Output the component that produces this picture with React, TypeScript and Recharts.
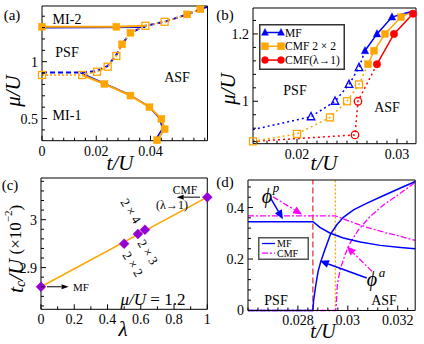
import React from 'react';
import { LineChart, Line, XAxis, YAxis, ReferenceLine, Legend } from 'recharts';

const FONT = "'Liberation Serif','Times New Roman',Times,'DejaVu Serif',serif";
const BLUE = '#0000ff';
const ORANGE = '#ffa500';
const RED = '#ff0000';
const MAGENTA = '#ff00ff';
const PURPLE = '#9400d3';

type Pt = { x: number; y: number; m?: number };

// ---------- Panel (a): mu/U vs t/U ----------
const aMI2MF: Pt[] = [{ x: 0, y: 1.299 }, { x: 0.0381, y: 1.303 }];
const aMI2CMF: Pt[] = [{ x: 0, y: 1.307, m: 1 }, { x: 0.0274, y: 1.307, m: 1 }, { x: 0.0381, y: 1.316 }];
const aPsfMF: Pt[] = [
  { x: 0, y: 0.904 }, { x: 0.0141, y: 0.904 }, { x: 0.0203, y: 0.918 }, { x: 0.0242, y: 0.962 },
  { x: 0.0274, y: 1.06 }, { x: 0.0295, y: 1.153 }, { x: 0.0326, y: 1.254 }, { x: 0.0381, y: 1.316 },
  { x: 0.0452, y: 1.351 }, { x: 0.0535, y: 1.416 }, { x: 0.0584, y: 1.462 }, { x: 0.0609, y: 1.482 },
];
const aPsfCMF: Pt[] = [
  { x: 0, y: 0.883, m: 0 }, { x: 0.0148, y: 0.883, m: 0 }, { x: 0.0203, y: 0.912, m: 0 },
  { x: 0.0242, y: 0.956, m: 0 }, { x: 0.0274, y: 1.05, m: 0 }, { x: 0.0295, y: 1.153, m: 1 },
  { x: 0.0326, y: 1.254, m: 1 }, { x: 0.0381, y: 1.316, m: 0 }, { x: 0.0452, y: 1.351, m: 0 },
  { x: 0.0535, y: 1.416, m: 1 }, { x: 0.0584, y: 1.462, m: 1 },
];
const aMI1MF: Pt[] = [
  { x: 0.0141, y: 0.904 }, { x: 0.0228, y: 0.81 }, { x: 0.0324, y: 0.708 }, { x: 0.0394, y: 0.605 },
  { x: 0.0434, y: 0.5 }, { x: 0.0444, y: 0.41 }, { x: 0.0418, y: 0.309 },
];
const aMI1CMF: Pt[] = [
  { x: 0.0148, y: 0.883 }, { x: 0.023, y: 0.804, m: 1 }, { x: 0.0326, y: 0.702, m: 1 },
  { x: 0.0396, y: 0.6, m: 1 }, { x: 0.044, y: 0.497, m: 1 }, { x: 0.0452, y: 0.407, m: 1 },
  { x: 0.0424, y: 0.309, m: 1 },
];
const aXMajor = [0, 0.02, 0.04];
const aYMajor = [0.5, 1];

// ---------- Panel (b) ----------
const bMFDot: Pt[] = [
  { x: 0.0156, y: 0.916 }, { x: 0.0214, y: 0.954, m: 0 }, { x: 0.0238, y: 1.0, m: 0 },
  { x: 0.0252, y: 1.05, m: 0 }, { x: 0.0262, y: 1.1, m: 0 }, { x: 0.0268, y: 1.15 },
];
const bMFSolid: Pt[] = [
  { x: 0.0268, y: 1.15, m: 1 }, { x: 0.028, y: 1.2, m: 1 }, { x: 0.0295, y: 1.25, m: 1 }, { x: 0.0316, y: 1.268 },
];
const bCMFDot: Pt[] = [
  { x: 0.0156, y: 0.881, m: 0 }, { x: 0.02, y: 0.903, m: 0 }, { x: 0.0233, y: 0.952, m: 0 },
  { x: 0.025, y: 1.0, m: 0 }, { x: 0.0262, y: 1.05, m: 0 }, { x: 0.0271, y: 1.11 },
];
const bCMFSolid: Pt[] = [
  { x: 0.0271, y: 1.11, m: 1 }, { x: 0.0277, y: 1.15, m: 1 }, { x: 0.0288, y: 1.2, m: 1 },
  { x: 0.0304, y: 1.25, m: 1 }, { x: 0.0316, y: 1.267 },
];
const bLamDot: Pt[] = [{ x: 0.0156, y: 0.881 }, { x: 0.0258, y: 0.9, m: 0 }, { x: 0.0261, y: 1.0, m: 0 }, { x: 0.028, y: 1.11 }];
const bLamSolid: Pt[] = [{ x: 0.028, y: 1.11, m: 1 }, { x: 0.0297, y: 1.2, m: 1 }, { x: 0.0316, y: 1.26, m: 1 }];
const bXMajor = [0.02, 0.03];
const bYMajor = [1, 1.2];
const bLegend = [
  { label: 'MF', color: BLUE, shape: 'tri' },
  { label: 'CMF 2 × 2', color: ORANGE, shape: 'sq' },
  { label: 'CMF(λ→1)', color: RED, shape: 'cir' },
];

// ---------- Panel (c) ----------
const cPoints: Pt[] = [
  { x: 0, y: 2.86, m: 1 }, { x: 0.5, y: 2.95, m: 1 }, { x: 0.583, y: 2.97, m: 1 },
  { x: 0.625, y: 2.979, m: 1 }, { x: 1, y: 3.047, m: 1 },
];
const cFit: Pt[] = [{ x: 0, y: 2.86 }, { x: 1, y: 3.047 }];
const cXMajor = [0, 0.2, 0.4, 0.6, 0.8, 1];
const cYMajor = [2.9, 3];

// ---------- Panel (d) ----------
const dMFp: Pt[] = [
  { x: 0.026, y: 0.345 }, { x: 0.02861, y: 0.345 }, { x: 0.02888, y: 0.323 }, { x: 0.02928, y: 0.301 },
  { x: 0.02982, y: 0.282 }, { x: 0.0305, y: 0.266 }, { x: 0.0313, y: 0.253 }, { x: 0.03211, y: 0.245 },
  { x: 0.0327, y: 0.24 },
];
const dMFa: Pt[] = [
  { x: 0.026, y: 0 }, { x: 0.0286, y: 0 }, { x: 0.02863, y: 0.04 }, { x: 0.02872, y: 0.1 },
  { x: 0.02881, y: 0.152 }, { x: 0.02891, y: 0.188 }, { x: 0.02908, y: 0.236 }, { x: 0.02931, y: 0.297 },
  { x: 0.02956, y: 0.333 }, { x: 0.02982, y: 0.362 }, { x: 0.03023, y: 0.391 }, { x: 0.03077, y: 0.417 },
  { x: 0.03144, y: 0.447 }, { x: 0.03211, y: 0.476 }, { x: 0.0327, y: 0.501 },
];
const dCMFp: Pt[] = [
  { x: 0.026, y: 0.368 }, { x: 0.0295, y: 0.368 }, { x: 0.03009, y: 0.346 }, { x: 0.03077, y: 0.323 },
  { x: 0.03157, y: 0.301 }, { x: 0.03211, y: 0.288 }, { x: 0.0327, y: 0.272 },
];
const dCMFa: Pt[] = [
  { x: 0.026, y: 0 }, { x: 0.0295, y: 0 }, { x: 0.02953, y: 0.01 }, { x: 0.02958, y: 0.1 },
  { x: 0.02969, y: 0.158 }, { x: 0.02989, y: 0.217 }, { x: 0.03009, y: 0.262 }, { x: 0.03043, y: 0.314 },
  { x: 0.03089, y: 0.365 }, { x: 0.03144, y: 0.411 }, { x: 0.03198, y: 0.447 }, { x: 0.0327, y: 0.497 },
];
const dTcMF = 0.0286;
const dTcCMF = 0.0295;
const dXMajor = [0.028, 0.03, 0.032];
const dYMajor = [0, 0.2, 0.4];
const dLegend = [
  { label: 'MF', color: BLUE, dash: undefined as string | undefined },
  { label: 'CMF', color: MAGENTA, dash: '6 2 2 2' },
];

// ---------- helpers ----------
const range = (a: number, b: number, s: number) => {
  const out: number[] = [];
  for (let k = 0; a + k * s <= b + 1e-9; k++) out.push(+(a + k * s).toFixed(6));
  return out;
};

const PAD_L = 44, PAD_T = 5, PAD_R = 6, PAD_B = 22;
type Rect = { l: number; r: number; t: number; b: number };
const RA: Rect = { l: 41.5, r: 207, t: 6, b: 140.7 };
const RB: Rect = { l: 253, r: 416, t: 8.3, b: 144 };
const RC: Rect = { l: 41, r: 207.3, t: 178, b: 309.3 };
const RD: Rect = { l: 248.3, r: 415.5, t: 180.3, b: 310.8 };

const boxStyle = (r: Rect): React.CSSProperties => ({ position: 'absolute', left: r.l - PAD_L, top: r.t - PAD_T });
const dims = (r: Rect) => ({ width: r.r - r.l + PAD_L + PAD_R, height: r.b - r.t + PAD_T + PAD_B });
const MARGIN = { top: 0, right: 0, bottom: 0, left: 0 };

const mkTick = (side: string, majors: number[], labels: boolean) => (p: any) => {
  const { x, y, payload } = p;
  const v = payload.value as number;
  const major = majors.some((m) => Math.abs(m - v) < 1e-9);
  const L = major ? 5 : 3;
  let x2 = x, y2 = y;
  if (side === 'bottom') y2 = y - L;
  else if (side === 'top') y2 = y + L;
  else if (side === 'left') x2 = x + L;
  else x2 = x - L;
  return (
    <g>
      <line x1={x} y1={y} x2={x2} y2={y2} stroke="#000" strokeWidth={1} />
      {labels && major && side === 'bottom' && (
        <text x={x} y={y + 15} textAnchor="middle" fontSize={14} fontFamily={FONT} fill="#000">{String(v)}</text>
      )}
      {labels && major && side === 'left' && (
        <text x={x - 4} y={y + 5} textAnchor="end" fontSize={14} fontFamily={FONT} fill="#000">{String(v)}</text>
      )}
    </g>
  );
};

const axes = (xd: [number, number], yd: [number, number], xt: number[], yt: number[], xm: number[], ym: number[]) => {
  const common = { type: 'number' as const, interval: 0 as const, tickSize: 0, tickMargin: 0, tickLine: false, axisLine: { stroke: '#000', strokeWidth: 1 }, allowDecimals: true };
  return [
    <XAxis key="xb" xAxisId="b" orientation="bottom" dataKey="x" domain={xd} ticks={xt} height={PAD_B} tick={mkTick('bottom', xm, true)} {...common} />,
    <XAxis key="xt" xAxisId="t" orientation="top" dataKey="x" domain={xd} ticks={xt} height={PAD_T} tick={mkTick('top', xm, false)} {...common} />,
    <YAxis key="yl" yAxisId="l" orientation="left" dataKey="y" domain={yd} ticks={yt} width={PAD_L} tick={mkTick('left', ym, true)} {...common} />,
    <YAxis key="yr" yAxisId="r" orientation="right" dataKey="y" domain={yd} ticks={yt} width={PAD_R} tick={mkTick('right', ym, false)} {...common} />,
  ];
};

const drawMarker = (shape: string, color: string, s: number, filled: boolean, cx: number, cy: number, key?: any) => {
  const fill = filled ? color : 'none';
  const sw = filled ? 0.4 : 1.3;
  const h = s / 2;
  if (shape === 'sq') return <rect key={key} x={cx - h} y={cy - h} width={s} height={s} fill={fill} stroke={color} strokeWidth={sw} />;
  if (shape === 'tri')
    return <polygon key={key} points={`${cx},${cy - h * 1.15} ${cx - h},${cy + h * 0.8} ${cx + h},${cy + h * 0.8}`} fill={fill} stroke={color} strokeWidth={sw} />;
  if (shape === 'cir') return <circle key={key} cx={cx} cy={cy} r={h} fill={fill} stroke={color} strokeWidth={sw} />;
  return <polygon key={key} points={`${cx},${cy - h} ${cx + h},${cy} ${cx},${cy + h} ${cx - h},${cy}`} fill={fill} stroke={color} strokeWidth={sw} />;
};

const dotFn = (shape: string, color: string, s: number) => (p: any) => {
  const k = p.key ?? `k${p.index}`;
  const m = p.payload ? p.payload.m : undefined;
  if ((m !== 0 && m !== 1) || p.cx == null || p.cy == null) return <g key={k} />;
  return drawMarker(shape, color, s, m === 1, p.cx, p.cy, k);
};

const arrow = (color: string, dash: string | undefined, head: number, width: number, sw: number) => (p: any) => {
  const { x1, y1, x2, y2 } = p;
  if ([x1, y1, x2, y2].some((v) => v == null || isNaN(v))) return <g />;
  const ang = Math.atan2(y2 - y1, x2 - x1);
  const bx = x2 - head * Math.cos(ang);
  const by = y2 - head * Math.sin(ang);
  const px = (-Math.sin(ang) * width) / 2;
  const py = (Math.cos(ang) * width) / 2;
  return (
    <g>
      <line x1={x1} y1={y1} x2={bx} y2={by} stroke={color} strokeWidth={sw} strokeDasharray={dash} />
      <polygon points={`${x2},${y2} ${bx + px},${by + py} ${bx - px},${by - py}`} fill={color} />
    </g>
  );
};

const lc = { xAxisId: 'b', yAxisId: 'l', dataKey: 'y', type: 'linear' as const, isAnimationActive: false, activeDot: false, legendType: 'none' as const };
const rc = { xAxisId: 'b', yAxisId: 'l' };

// ---------- Panels ----------
const PanelA = () => (
  <div style={boxStyle(RA)}>
    <LineChart {...dims(RA)} margin={MARGIN}>
      {axes([0, 0.061], [0.305, 1.49], range(0, 0.06, 0.004), range(0.4, 1.4, 0.1), aXMajor, aYMajor)}
      <Line {...lc} data={aMI2MF} stroke={BLUE} strokeWidth={1.5} dot={false} />
      <Line {...lc} data={aMI1MF} stroke={BLUE} strokeWidth={1.5} dot={false} />
      <Line {...lc} data={aPsfMF} stroke={BLUE} strokeWidth={2} strokeDasharray="5 3" dot={false} />
      <Line {...lc} data={aPsfCMF} stroke={ORANGE} strokeWidth={1.5} strokeDasharray="2 2" dot={dotFn('sq', ORANGE, 7)} />
      <Line {...lc} data={aMI2CMF} stroke={ORANGE} strokeWidth={2} dot={dotFn('sq', ORANGE, 7)} />
      <Line {...lc} data={aMI1CMF} stroke={ORANGE} strokeWidth={2} dot={dotFn('sq', ORANGE, 7)} />
    </LineChart>
  </div>
);

const LegendB = () => (
  <svg width={86} height={46} style={{ display: 'block' }}>
    <rect x={0.75} y={0.75} width={84.5} height={44.5} fill="#fff" stroke="#333" strokeWidth={1.5} />
    {bLegend.map((e, i) => {
      const y = 8.5 + i * 13.8;
      return (
        <g key={i}>
          <line x1={6} x2={22} y1={y} y2={y} stroke={e.color} strokeWidth={1.5} />
          {drawMarker(e.shape, e.color, 7, true, 6, y)}
          {drawMarker(e.shape, e.color, 7, true, 22, y)}
          <text x={26} y={y + 4} fontSize={11.5} fontFamily={FONT} fill="#000">{e.label}</text>
        </g>
      );
    })}
  </svg>
);

const PanelB = () => (
  <div style={boxStyle(RB)}>
    <LineChart {...dims(RB)} margin={MARGIN}>
      {axes([0.0156, 0.0319], [0.874, 1.277], range(0.016, 0.031, 0.001), range(0.88, 1.24, 0.04), bXMajor, bYMajor)}
      <Line {...lc} data={bLamDot} stroke={RED} strokeWidth={1.5} strokeDasharray="2 3" dot={dotFn('cir', RED, 7.5)} />
      <Line {...lc} data={bLamSolid} stroke={RED} strokeWidth={1.5} dot={dotFn('cir', RED, 7.5)} />
      <Line {...lc} data={bCMFDot} stroke={ORANGE} strokeWidth={1.5} strokeDasharray="2 3" dot={dotFn('sq', ORANGE, 7)} />
      <Line {...lc} data={bCMFSolid} stroke={ORANGE} strokeWidth={1.5} dot={dotFn('sq', ORANGE, 7)} />
      <Line {...lc} data={bMFDot} stroke={BLUE} strokeWidth={1.5} strokeDasharray="2 3" dot={dotFn('tri', BLUE, 7.5)} />
      <Line {...lc} data={bMFSolid} stroke={BLUE} strokeWidth={1.5} dot={dotFn('tri', BLUE, 7.5)} />
      <Legend layout="vertical" align="center" verticalAlign="middle" content={() => <LegendB />}
        wrapperStyle={{ position: 'absolute', left: 259.3 - (RB.l - PAD_L), top: 24.3 - (RB.t - PAD_T), width: 86, height: 46 }} />
    </LineChart>
  </div>
);

const PanelC = () => (
  <div style={boxStyle(RC)}>
    <LineChart {...dims(RC)} margin={MARGIN}>
      {axes([0, 1], [2.813, 3.087], range(0, 1, 0.1), range(2.82, 3.08, 0.02), cXMajor, cYMajor)}
      <Line {...lc} data={cFit} stroke={ORANGE} strokeWidth={1.5} dot={false} />
      <Line {...lc} data={cPoints} stroke="none" dot={dotFn('dia', PURPLE, 10)} />
      <ReferenceLine {...rc} segment={[{ x: 0.036, y: 2.86 }, { x: 0.166, y: 2.86 }]} stroke="#000" shape={arrow('#000', undefined, 7, 5, 1)} />
      <ReferenceLine {...rc} segment={[{ x: 0.956, y: 3.047 }, { x: 0.816, y: 3.047 }]} stroke="#000" shape={arrow('#000', undefined, 7, 5, 1)} />
    </LineChart>
  </div>
);

const LegendD = () => (
  <svg width={51} height={23} style={{ display: 'block' }}>
    <rect x={0.75} y={0.75} width={49.5} height={21.5} fill="#fff" stroke="#555" strokeWidth={1.5} />
    {dLegend.map((e, i) => {
      const y = 6.5 + i * 9.7;
      return (
        <g key={i}>
          <line x1={4} x2={17} y1={y} y2={y} stroke={e.color} strokeWidth={1.3} strokeDasharray={e.dash} />
          <text x={19} y={y + 3.5} fontSize={10} fontFamily={FONT} fill="#000">{e.label}</text>
        </g>
      );
    })}
  </svg>
);

const PanelD = () => (
  <div style={boxStyle(RD)}>
    <LineChart {...dims(RD)} margin={MARGIN}>
      {axes([0.026, 0.0327], [0, 0.507], range(0.026, 0.0324, 0.0004), range(0, 0.48, 0.04), dXMajor, dYMajor)}
      <ReferenceLine {...rc} x={dTcMF} stroke="#e8262a" strokeWidth={1.2} strokeDasharray="6 3" />
      <ReferenceLine {...rc} x={dTcCMF} stroke={ORANGE} strokeWidth={1.3} strokeDasharray="2 2" />
      <Line {...lc} data={dCMFa} stroke={MAGENTA} strokeWidth={1.3} strokeDasharray="6 2 2 2" dot={false} />
      <Line {...lc} data={dCMFp} stroke={MAGENTA} strokeWidth={1.3} strokeDasharray="6 2 2 2" dot={false} />
      <Line {...lc} data={dMFa} stroke={BLUE} strokeWidth={1.5} dot={false} />
      <Line {...lc} data={dMFp} stroke={BLUE} strokeWidth={1.5} dot={false} />
      <ReferenceLine {...rc} segment={[{ x: 0.0269, y: 0.438 }, { x: 0.0274, y: 0.355 }]} stroke={BLUE} shape={arrow(BLUE, undefined, 9, 8, 1.5)} />
      <ReferenceLine {...rc} segment={[{ x: 0.027, y: 0.442 }, { x: 0.02817, y: 0.373 }]} stroke={MAGENTA} shape={arrow(MAGENTA, '6 2 2 2', 9, 8, 1.3)} />
      <ReferenceLine {...rc} segment={[{ x: 0.03076, y: 0.126 }, { x: 0.02888, y: 0.193 }]} stroke={BLUE} shape={arrow(BLUE, undefined, 9, 8, 1.5)} />
      <ReferenceLine {...rc} segment={[{ x: 0.03097, y: 0.152 }, { x: 0.02996, y: 0.249 }]} stroke={MAGENTA} shape={arrow(MAGENTA, '6 2 2 2', 9, 8, 1.3)} />
      <Legend layout="vertical" align="center" verticalAlign="middle" content={() => <LegendD />}
        wrapperStyle={{ position: 'absolute', left: 257.7 - (RD.l - PAD_L), top: 237 - (RD.t - PAD_T), width: 51, height: 23 }} />
    </LineChart>
  </div>
);

// ---------- text overlay ----------
const T = (props: any) => {
  const { x, y, size = 14, italic, anchor = 'middle', rotate, children } = props;
  return (
    <text x={x} y={y} fontSize={size} fontStyle={italic ? 'italic' : 'normal'} textAnchor={anchor} dominantBaseline="central"
      fontFamily={FONT} fill="#000" transform={rotate != null ? `rotate(${rotate} ${x} ${y})` : undefined}>
      {children}
    </text>
  );
};

const Overlay = () => (
  <svg width={424} height={344} style={{ position: 'absolute', left: 0, top: 0, pointerEvents: 'none' }}>
    {/* (a) */}
    <T x={12} y={15} size={15}>(a)</T>
    <T x={67} y={19}>MI-2</T>
    <T x={67} y={52}>PSF</T>
    <T x={177} y={77}>ASF</T>
    <T x={67} y={115}>MI-1</T>
    <T x={13} y={91} size={21} italic rotate={-90}>μ/U</T>
    <T x={120} y={163} size={21} italic>t/U</T>
    {/* (b) */}
    <T x={225} y={15} size={15}>(b)</T>
    <T x={295} y={90}>PSF</T>
    <T x={387} y={107}>ASF</T>
    <T x={228} y={89} size={21} italic rotate={-90}>μ/U</T>
    <T x={324} y={163} size={21} italic>t/U</T>
    {/* (c) */}
    <T x={10} y={185} size={15}>(c)</T>
    <T x={185} y={190} size={11.5}>CMF</T>
    <T x={172} y={205} size={12}>(λ→1)</T>
    <T x={73} y={287} size={11} anchor="start">MF</T>
    <text x={153} y={299} fontSize={17} textAnchor="middle" dominantBaseline="central" fontFamily={FONT}>
      <tspan fontStyle="italic">μ/U</tspan> = 1.2
    </text>
    <T x={131} y={211} size={13} rotate={58}>2 × 4</T>
    <T x={148} y={252} size={13} rotate={58}>2 × 3</T>
    <T x={133} y={264} size={13} rotate={58}>2 × 2</T>
    <text x={15} y={249} textAnchor="middle" dominantBaseline="central" fontFamily={FONT} transform="rotate(-90 15 249)">
      <tspan fontSize={22} fontStyle="italic">t</tspan>
      <tspan fontSize={14} fontStyle="italic" dy={5}>c</tspan>
      <tspan fontSize={22} fontStyle="italic" dy={-5}>/U</tspan>
      <tspan fontSize={17}> (×10</tspan>
      <tspan fontSize={11} dy={-7}>−2</tspan>
      <tspan fontSize={17} dy={7}>)</tspan>
    </text>
    <T x={123} y={329} size={21} italic>λ</T>
    {/* (d) */}
    <T x={225} y={182} size={15}>(d)</T>
    <T x={267} y={196} size={20} italic>ϕ</T>
    <T x={276} y={187} size={13} italic>p</T>
    <T x={372} y={279} size={20} italic>ϕ</T>
    <T x={382} y={272} size={13} italic>a</T>
    <T x={276} y={300}>PSF</T>
    <T x={384} y={300}>ASF</T>
    <T x={323} y={331} size={20} italic>t/U</T>
  </svg>
);

export default function App() {
  return (
    <div style={{ position: 'absolute', left: 0, top: 0, width: 424, height: 344, background: '#fff', overflow: 'hidden' }}>
      <PanelA />
      <PanelB />
      <PanelC />
      <PanelD />
      <Overlay />
    </div>
  );
}
